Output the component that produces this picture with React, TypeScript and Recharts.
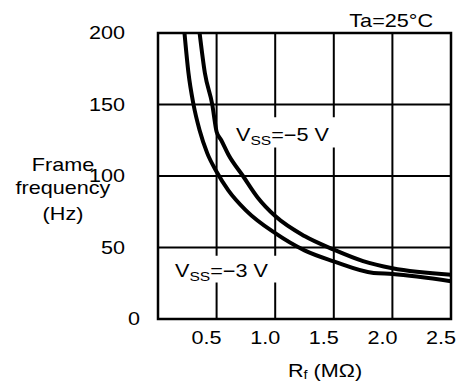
import React from 'react';
import { LineChart, Line, XAxis, YAxis, CartesianGrid, ReferenceArea } from 'recharts';

// axis ticks
const xTicks = [0.5, 1.0, 1.5, 2.0, 2.5];
const yTicks = [0, 50, 100, 150, 200];

// VSS = -5 V curve (Rf in MOhm, frame frequency in Hz)
const rfVss5 = [0.355, 0.4, 0.463, 0.5, 0.54, 0.6, 0.725, 0.85, 1.0, 1.25, 1.5, 1.75, 2.0, 2.5];
const freqVss5 = [200, 172, 150, 131, 125, 115, 100, 85, 72, 58, 48.5, 40.5, 35.5, 31];

// VSS = -3 V curve
const rfVss3 = [0.226, 0.26, 0.303, 0.355, 0.42, 0.5, 0.6, 0.75, 1.0, 1.25, 1.5, 1.84, 2.0, 2.5];
const freqVss3 = [200, 172, 150, 132, 116, 103, 90, 76, 60, 48, 40.3, 32.2, 31.5, 26.4];

const FONT = '"Liberation Sans", Arial, Helvetica, sans-serif';
const STRETCH = 1.2; // source glyphs are a bit wider than Arial

const toPoints = (rf: number[], freq: number[]) => rf.map((r, i) => ({ rf: r, freq: freq[i] }));

const StretchText = ({ x, y, anchor = 'start', size = 18, children }: any) => (
  <text
    transform={`translate(${x},${y}) scale(${STRETCH},1)`}
    textAnchor={anchor}
    fontSize={size}
    fontFamily={FONT}
    fill="#000"
  >
    {children}
  </text>
);

const YTick = ({ y, payload }: any) =>
  payload.value === 0 ? (
    <StretchText x={140} y={y + 6} anchor="end">{payload.value}</StretchText>
  ) : (
    <StretchText x={125} y={y + 6} anchor="end">{payload.value}</StretchText>
  );

const XTick = ({ x, payload }: any) => (
  <StretchText x={x - 10} y={344} anchor="middle">{payload.value.toFixed(1)}</StretchText>
);

const App = () => {
  return (
    <div style={{ position: 'absolute', left: 0, top: 0, width: 461, height: 387, background: '#fff' }}>
      <LineChart width={461} height={387} margin={{ top: 33, right: 10, bottom: 0, left: 0 }}>
        <CartesianGrid stroke="#000" strokeWidth={2} />
        <XAxis
          type="number"
          dataKey="rf"
          domain={[0, 2.5]}
          ticks={xTicks}
          allowDataOverflow
          height={68}
          axisLine={false}
          tickLine={false}
          tick={<XTick />}
        />
        <YAxis
          type="number"
          dataKey="freq"
          domain={[0, 200]}
          ticks={yTicks}
          allowDataOverflow
          width={158}
          axisLine={false}
          tickLine={false}
          tick={<YTick />}
        />
        {/* white boxes behind the curve labels */}
        <ReferenceArea x1={0.59} x2={1.6} y1={120} y2={141} fill="#fff" fillOpacity={1} stroke="none" />
        <ReferenceArea x1={0.06} x2={1.04} y1={25.5} y2={44.3} fill="#fff" fillOpacity={1} stroke="none" />
        <ReferenceArea x1={0} x2={2.5} y1={0} y2={200} fill="none" stroke="#000" strokeWidth={2.5} />
        <Line
          data={toPoints(rfVss5, freqVss5)}
          dataKey="freq"
          type="monotone"
          stroke="#000"
          strokeWidth={4}
          dot={false}
          isAnimationActive={false}
        />
        <Line
          data={toPoints(rfVss3, freqVss3)}
          dataKey="freq"
          type="monotone"
          stroke="#000"
          strokeWidth={4}
          dot={false}
          isAnimationActive={false}
        />
      </LineChart>
      <svg width={461} height={387} style={{ position: 'absolute', left: 0, top: 0, pointerEvents: 'none' }}>
        <StretchText x={433} y={27} anchor="end">Ta=25°C</StretchText>
        <StretchText x={63} y={171} anchor="middle">Frame</StretchText>
        <StretchText x={63} y={194} anchor="middle">frequency</StretchText>
        <StretchText x={63} y={220} anchor="middle">(Hz)</StretchText>
        <StretchText x={236} y={140.5}>
          V<tspan fontSize={13} dy={4}>SS</tspan><tspan dy={-4}>=−5 V</tspan>
        </StretchText>
        <StretchText x={175} y={276.5}>
          V<tspan fontSize={13} dy={4}>SS</tspan><tspan dy={-4}>=−3 V</tspan>
        </StretchText>
        <StretchText x={288} y={377}>
          R<tspan fontSize={12} dy={2}>f</tspan><tspan dy={-2}> (MΩ)</tspan>
        </StretchText>
      </svg>
    </div>
  );
};

export default App;
